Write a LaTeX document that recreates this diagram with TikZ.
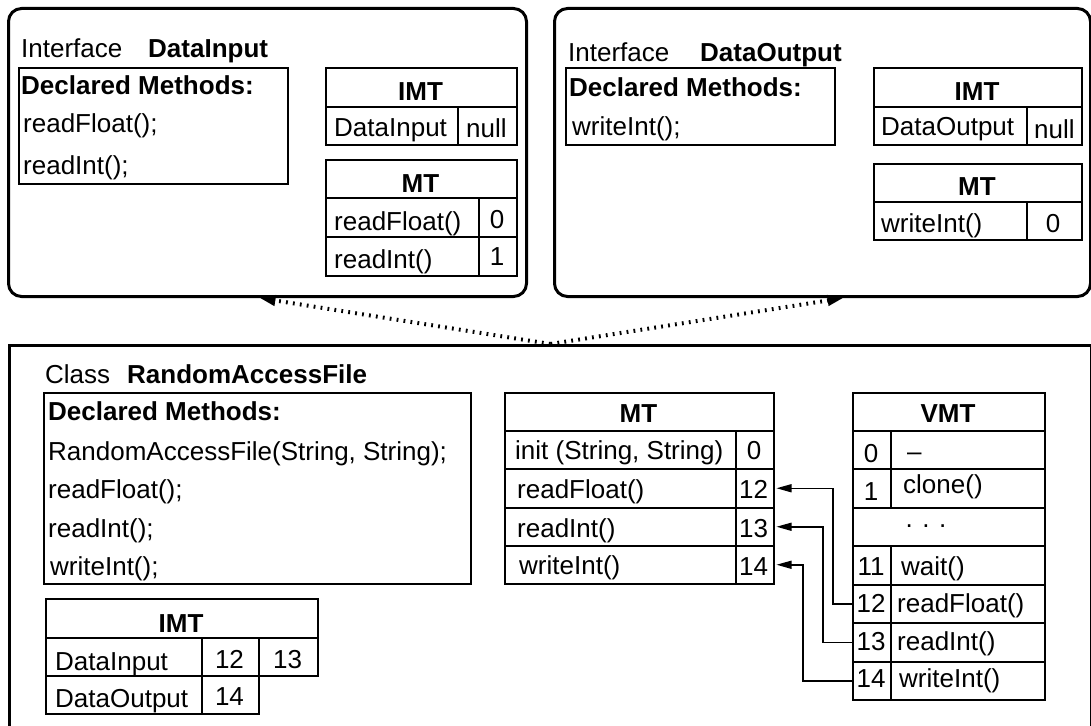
\documentclass[tikz,border=0pt]{standalone}
\usepackage{fontspec}
\setmainfont{Liberation Sans}
\usetikzlibrary{arrows.meta}
\newcommand\dfs{\fontsize{26}{30}\selectfont}
\tikzset{
 outerbox/.style={draw, line width=3pt, rounded corners=13pt, inner sep=0pt, anchor=north west},
 plainbox/.style={draw, line width=3pt, inner sep=0pt, anchor=north west},
 cell/.style={draw, line width=1.5pt, inner sep=0pt, anchor=north west},
 lbl/.style={anchor=base west, inner sep=0pt, font=\dfs},
 clbl/.style={anchor=base, inner sep=0pt, font=\dfs},
 bl/.style={font=\dfs\bfseries},
 conn/.style={line width=1.5pt, -{Triangle[length=15pt,width=8pt]}},
 dots/.style={line width=4pt, dash pattern=on 1.8pt off 5.2pt, -{Triangle[length=16pt,width=10pt]}}
}
\begin{document}
\begin{tikzpicture}[x=1pt,y=-1pt]
\path[use as bounding box, fill=white] (0,0) rectangle (1091,725);

% ---------- Interface DataInput ----------
\node[outerbox, minimum width=518pt, minimum height=288pt] (tl) at (7,7) {};
\node[lbl] (tlk) at (21,58) {Interface};
\node[lbl,bl] (tln) at (148,58) {DataInput};
\node[cell, minimum width=269pt, minimum height=116pt] (dA) at (18,67) {};
\node[lbl,bl] (dAh) at (21,94) {Declared Methods:};
\node[lbl] (dA1) at (23,132) {readFloat();};
\node[lbl] (dA2) at (23,174) {readInt();};
% IMT
\node[cell, minimum width=191pt, minimum height=39pt] (iA) at (325,67) {};
\node[cell, minimum width=132pt, minimum height=38pt] (iA1) at (325,106) {};
\node[cell, minimum width=59pt, minimum height=38pt] (iA2) at (457,106) {};
\node[clbl,bl] (iAh) at (420.5,100) {IMT};
\node[lbl] (iA1t) at (334,136) {DataInput};
\node[lbl] (iA2t) at (466,137) {null};
% MT
\node[cell, minimum width=191pt, minimum height=38pt] (mA) at (325,159) {};
\node[cell, minimum width=153pt, minimum height=39pt] (mA1) at (325,197) {};
\node[cell, minimum width=38pt, minimum height=39pt] (mA1n) at (478,197) {};
\node[cell, minimum width=153pt, minimum height=39pt] (mA2) at (325,236) {};
\node[cell, minimum width=38pt, minimum height=39pt] (mA2n) at (478,236) {};
\node[clbl,bl] (mAh) at (420.5,192) {MT};
\node[lbl] (mA1t) at (334,230) {readFloat()};
\node[clbl] (mA1v) at (497,228) {0};
\node[lbl] (mA2t) at (334,268) {readInt()};
\node[clbl] (mA2v) at (497,265) {1};

% ---------- Interface DataOutput ----------
\node[outerbox, minimum width=536pt, minimum height=288pt] (tr) at (553,7) {};
\node[lbl] (trk) at (568,61) {Interface};
\node[lbl,bl] (trn) at (700,61) {DataOutput};
\node[cell, minimum width=269pt, minimum height=77pt] (dB) at (565,67) {};
\node[lbl,bl] (dBh) at (569,96) {Declared Methods:};
\node[lbl] (dB1) at (572,135) {writeInt();};
% IMT
\node[cell, minimum width=208pt, minimum height=39pt] (iB) at (873,67) {};
\node[cell, minimum width=153pt, minimum height=38pt] (iB1) at (873,106) {};
\node[cell, minimum width=55pt, minimum height=38pt] (iB2) at (1026,106) {};
\node[clbl,bl] (iBh) at (977,100) {IMT};
\node[lbl] (iB1t) at (881,135) {DataOutput};
\node[lbl] (iB2t) at (1034,138) {null};
% MT
\node[cell, minimum width=208pt, minimum height=38pt] (mB) at (873,163) {};
\node[cell, minimum width=153pt, minimum height=38pt] (mB1) at (873,201) {};
\node[cell, minimum width=55pt, minimum height=38pt] (mB1n) at (1026,201) {};
\node[clbl,bl] (mBh) at (977,195) {MT};
\node[lbl] (mB1t) at (881,232) {writeInt()};
\node[clbl] (mB1v) at (1053,232) {0};

% ---------- Class RandomAccessFile ----------
\node[plainbox, minimum width=1082pt, minimum height=420pt] (cls) at (8,344) {};
\node[lbl] (clk) at (45,383) {Class};
\node[lbl,bl] (cln) at (127,383) {RandomAccessFile};
\node[cell, minimum width=427pt, minimum height=191pt] (dC) at (43,392) {};
\node[lbl,bl] (dCh) at (48,420) {Declared Methods:};
\node[lbl] (dC1) at (48,460) {RandomAccessFile(String, String);};
\node[lbl] (dC2) at (48,498) {readFloat();};
\node[lbl] (dC3) at (48,537) {readInt();};
\node[lbl] (dC4) at (50,575) {writeInt();};
% IMT
\node[cell, minimum width=272pt, minimum height=39pt] (iC) at (45,598) {};
\node[cell, minimum width=156pt, minimum height=38pt] (iC1) at (45,637) {};
\node[cell, minimum width=57pt, minimum height=38pt] (iC2) at (201,637) {};
\node[cell, minimum width=59pt, minimum height=38pt] (iC3) at (258,637) {};
\node[cell, minimum width=156pt, minimum height=38pt] (iC4) at (45,675) {};
\node[cell, minimum width=57pt, minimum height=38pt] (iC5) at (201,675) {};
\node[clbl,bl] (iCh) at (181,632) {IMT};
\node[lbl] (iC1t) at (55,670) {DataInput};
\node[clbl] (iC2t) at (229.5,668) {12};
\node[clbl] (iC3t) at (287.5,668) {13};
\node[lbl] (iC4t) at (55,707) {DataOutput};
\node[clbl] (iC5t) at (229.5,705) {14};
% MT
\node[cell, minimum width=269pt, minimum height=38pt] (mC) at (504,392) {};
\node[cell, minimum width=231pt, minimum height=38pt] (mC0) at (504,430) {};
\node[cell, minimum width=38pt, minimum height=38pt] (mC0n) at (735,430) {};
\node[cell, minimum width=231pt, minimum height=39pt] (mC1) at (504,468) {};
\node[cell, minimum width=38pt, minimum height=39pt] (mC1n) at (735,468) {};
\node[cell, minimum width=231pt, minimum height=38pt] (mC2) at (504,507) {};
\node[cell, minimum width=38pt, minimum height=38pt] (mC2n) at (735,507) {};
\node[cell, minimum width=231pt, minimum height=38pt] (mC3) at (504,545) {};
\node[cell, minimum width=38pt, minimum height=38pt] (mC3n) at (735,545) {};
\node[clbl,bl] (mCh) at (638.5,422) {MT};
\node[lbl] (mC0t) at (515,459) {init (String, String)};
\node[clbl] (mC0v) at (754,459) {0};
\node[lbl] (mC1t) at (517,498) {readFloat()};
\node[lbl] (mC1v) at (739,498) {12};
\node[lbl] (mC2t) at (517,537) {readInt()};
\node[lbl] (mC2v) at (739,537) {13};
\node[lbl] (mC3t) at (519,574) {writeInt()};
\node[lbl] (mC3v) at (739,575) {14};
% VMT
\node[cell, minimum width=192pt, minimum height=38pt] (vC) at (852,392) {};
\node[cell, minimum width=38pt, minimum height=38pt] (v0) at (852,430) {};
\node[cell, minimum width=154pt, minimum height=38pt] (v0t) at (890,430) {};
\node[cell, minimum width=38pt, minimum height=39pt] (v1) at (852,468) {};
\node[cell, minimum width=154pt, minimum height=39pt] (v1t) at (890,468) {};
\node[cell, minimum width=192pt, minimum height=38pt] (vd) at (852,507) {};
\node[cell, minimum width=38pt, minimum height=39pt] (v11) at (852,545) {};
\node[cell, minimum width=154pt, minimum height=39pt] (v11t) at (890,545) {};
\node[cell, minimum width=38pt, minimum height=38pt] (v12) at (852,584) {};
\node[cell, minimum width=154pt, minimum height=38pt] (v12t) at (890,584) {};
\node[cell, minimum width=38pt, minimum height=39pt] (v13) at (852,622) {};
\node[cell, minimum width=154pt, minimum height=39pt] (v13t) at (890,622) {};
\node[cell, minimum width=38pt, minimum height=38pt] (v14) at (852,661) {};
\node[cell, minimum width=154pt, minimum height=38pt] (v14t) at (890,661) {};
\node[clbl,bl] (vCh) at (948,422) {VMT};
\node[clbl] (v0n) at (871,462) {0};
\node[lbl] (v0s) at (907,460) {–};
\node[clbl] (v1n) at (871,500) {1};
\node[lbl] (v1s) at (903,493) {clone()};
\node[clbl] (vds) at (926,527) {. . .};
\node[clbl] (v11n) at (871,575) {11};
\node[lbl] (v11s) at (901,575) {wait()};
\node[clbl] (v12n) at (871,612) {12};
\node[lbl] (v12s) at (897,612) {readFloat()};
\node[clbl] (v13n) at (871,650) {13};
\node[lbl] (v13s) at (897,650) {readInt()};
\node[clbl] (v14n) at (871,687) {14};
\node[lbl] (v14s) at (899,687) {writeInt()};

% ---------- connectors ----------
\draw[conn] (v12.west) -- ++(-19,0) |- ([xshift=2pt]mC1n.east);
\draw[conn] (v13.west) -- ++(-29,0) |- ([xshift=2pt]mC2n.east);
\draw[conn] (v14.west) -- ++(-49,0) |- ([xshift=2pt]mC3n.east);

\draw[dots] (cls.north) -- ([xshift=-8pt]tl.south);
\draw[dots] (cls.north) -- ([xshift=21pt]tr.south);
\end{tikzpicture}
\end{document}
